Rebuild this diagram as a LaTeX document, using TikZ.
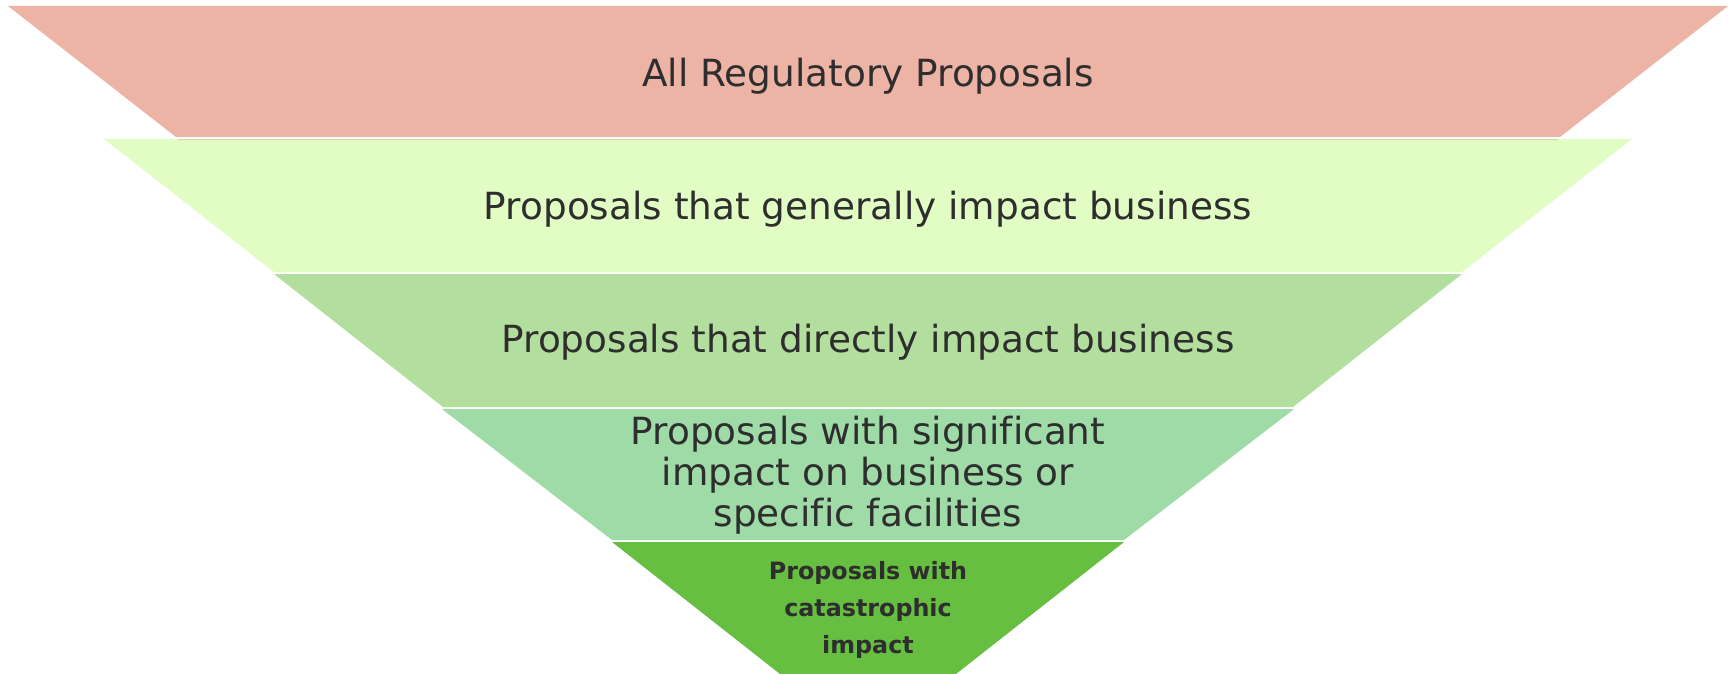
\documentclass[tikz,border=0pt]{standalone}
\usepackage{fontspec}
\setmainfont{DejaVu Sans}[Ligatures={TeX,NoCommon}]
\definecolor{bandA}{HTML}{EDB4A5}
\definecolor{bandB}{HTML}{E1FDC4}
\definecolor{bandC}{HTML}{B2DF9E}
\definecolor{bandD}{HTML}{9FDBA7}
\definecolor{bandE}{HTML}{66BF40}
\definecolor{olive}{HTML}{D4D89C}
\definecolor{ink}{HTML}{2E2E2E}
\tikzset{
  band/.style={draw=none},
  lbl/.style={text=ink, inner sep=0pt, align=center, font=\fontsize{18.7pt}{20.6pt}\selectfont},
  boldlbl/.style={text=ink, inner sep=0pt, align=center, font=\fontsize{11.9pt}{18.3pt}\selectfont\bfseries},
}
\begin{document}
\begin{tikzpicture}[x=0.5pt,y=-0.5pt]
\useasboundingbox[fill=white] (0,0) rectangle (1734,674);
\fill[bandA] (8,6) -- (1728,6) -- (1560,137) -- (176,137) -- cycle;
\fill[bandB] (104,139) -- (1632,139) -- (1462,272) -- (274,272) -- cycle;
\draw[olive, line width=0.5pt] (178,139.5) -- (1558,139.5);
\fill[bandC] (274,274) -- (1462,274) -- (1293,407) -- (443,407) -- cycle;
\fill[bandD] (442,409) -- (1294,409) -- (1124,540) -- (612,540) -- cycle;
\fill[bandE] (612,542) -- (1124,542) -- (956,674) -- (780,674) -- cycle;
\node[lbl, anchor=base] (t1) at (868,86.7) {All Regulatory Proposals};
\node[lbl, anchor=base] (t2) at (868,219.4) {Proposals that generally impact business};
\node[lbl, anchor=base] (t3) at (868,352.1) {Proposals that directly impact business};
\node[lbl, anchor=base] (t4) at (868,526.7) {Proposals with significant\\impact on business or\\specific facilities};
\node[boldlbl, anchor=base] (t5) at (868,653) {Proposals with\\catastrophic\\impact};
\end{tikzpicture}
\end{document}
